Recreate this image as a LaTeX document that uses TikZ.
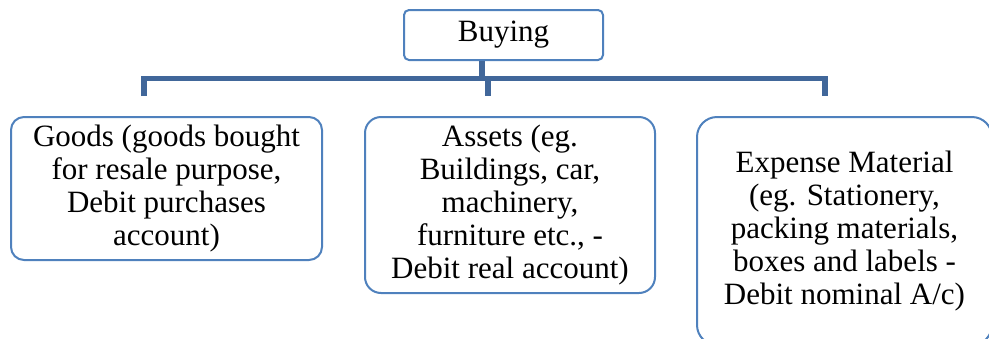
\documentclass[tikz,border=0pt]{standalone}
\usepackage{fontspec}
\setmainfont{LiberationSerif}[Extension=.ttf, UprightFont=*-Regular, BoldFont=*-Bold]
\definecolor{linkblue}{HTML}{41679A}
\definecolor{boxblue}{HTML}{4F81BD}
\tikzset{
  box/.style={draw=boxblue, line width=2pt, fill=white, align=center,
    font=\fontsize{31}{32.8}\selectfont, inner sep=0pt},
  conn/.style={draw=linkblue, line width=5.5pt, line join=miter}
}
\begin{document}
\begin{tikzpicture}[x=1pt,y=-1pt]
\useasboundingbox (0,0) rectangle (989,338);
% connectors
\coordinate (vT) at (482,78.5);
\coordinate (hL) at (144,78.5);
\coordinate (hR) at (825,78.5);
\coordinate (hM) at (488,78.5);
\coordinate (eL) at (144,96);
\coordinate (eR) at (825,96);
\coordinate (eM) at (488,96);
\node[box, rounded corners=5pt, minimum width=199pt, minimum height=50pt] (top) at (503.5,35) {Buying};
\draw[conn] (eL) -- (hL) -- (hR) -- (eR);
\draw[conn] (hM) -- (eM);
\draw[conn] (top.south -| vT) -- (vT);
\node[box, rounded corners=13pt, minimum width=311pt, minimum height=143pt] (goods) at (166.5,188.5)
  {Goods (goods bought\\for resale purpose,\\Debit purchases\\account)};
\node[box, rounded corners=16pt, minimum width=290pt, minimum height=176pt] (assets) at (510,205)
  {Assets (eg.\\Buildings, car,\\machinery,\\furniture etc., -\\Debit real account)};
\node[box, rounded corners=20pt, minimum width=295pt, minimum height=228pt] (expense) at (844.5,231)
  {Expense Material\\(eg. Stationery,\\packing materials,\\boxes and labels -\\Debit nominal A/c)};
\end{tikzpicture}
\end{document}
